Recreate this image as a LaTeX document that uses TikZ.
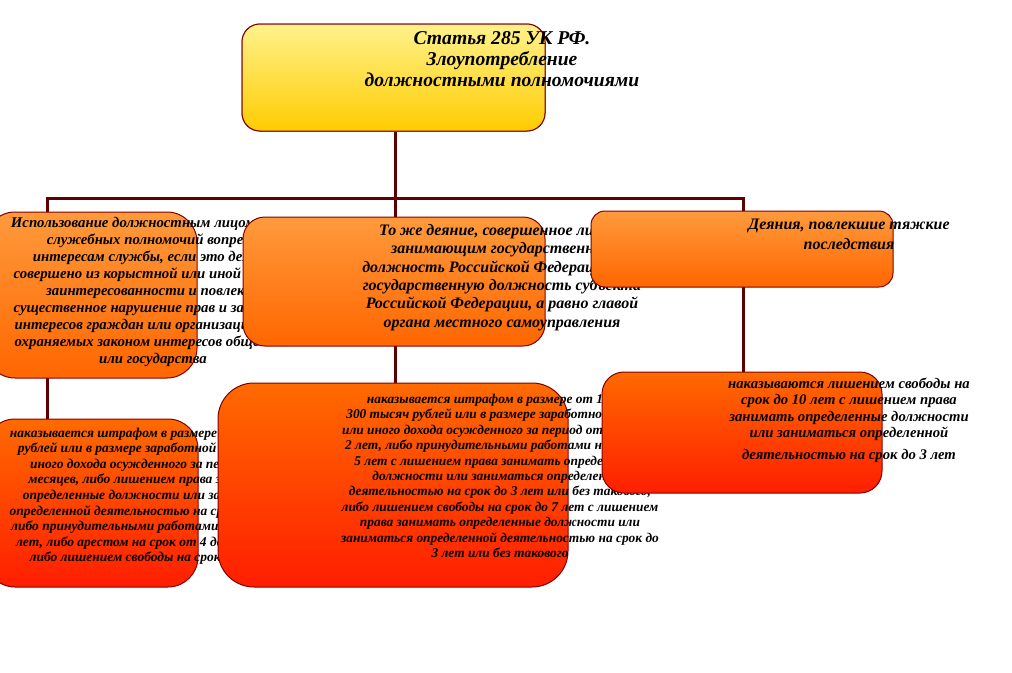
\documentclass[tikz,border=0pt]{standalone}
\usepackage{fontspec}
\setmainfont{Liberation Serif}
\definecolor{edge}{HTML}{800000}
\definecolor{wire}{HTML}{5E0000}
\definecolor{ytop}{HTML}{FFF28C}
\definecolor{ybot}{HTML}{FFCC00}
\definecolor{otop}{HTML}{FF9A3C}
\definecolor{obot}{HTML}{FF6600}
\definecolor{rtop}{HTML}{FF6A00}
\definecolor{rbot}{HTML}{FF1E00}
\tikzset{
  panel/.style={draw=edge, line width=1pt, rectangle, inner sep=0pt},
  yellowpanel/.style={panel, top color=ytop, bottom color=ybot},
  orangepanel/.style={panel, top color=otop, bottom color=obot},
  redpanel/.style={panel, top color=rtop, bottom color=rbot},
  wireline/.style={draw=wire, line width=3pt},
  titletext/.style={align=center, inner sep=0pt, anchor=north, font=\fontsize{19.6}{21}\selectfont\bfseries\itshape},
  bigtext/.style={align=center, inner sep=0pt, anchor=north, font=\fontsize{16}{17}\selectfont\bfseries\itshape},
  midtext/.style={align=center, inner sep=0pt, anchor=north, font=\fontsize{16}{18.4}\selectfont\bfseries\itshape},
  smalltext/.style={align=center, inner sep=0pt, anchor=north, font=\fontsize{13.5}{15.6}\selectfont\bfseries\itshape},
}
\begin{document}
\begin{tikzpicture}[x=1pt,y=-1pt]
\useasboundingbox (0,0) rectangle (1012,672);
\clip (0,0) rectangle (1012,672);
\coordinate (jl) at (47,198);
\coordinate (jm) at (395,198);
\coordinate (jr) at (743,198);
% title
\node[yellowpanel, rounded corners=18pt, minimum width=303pt, minimum height=107pt] (title) at (393.5,77.5) {};
\path (title.south -| jm) coordinate (ts);
\draw[wireline] (ts) -- (jm);
\draw[wireline, line cap=rect] (jl) -- (jr);
\draw[wireline] (jl) -- (jl |- 0,212);
\draw[wireline] (jm) -- (jm |- 0,217);
\draw[wireline] (jr) -- (jr |- 0,211);
\draw[wireline] (47,378) coordinate (l1s) -- (47,419) coordinate (l2n);
\draw[wireline] (395,346) coordinate (m1s) -- (395,383) coordinate (m2n);
\draw[wireline] (743,287) coordinate (r1s) -- (743,372) coordinate (r2n);
\node[yellowpanel, rounded corners=18pt, minimum width=303pt, minimum height=107pt] at (title) {};
\node[titletext] (ttl) at (502,31.5) {Статья 285 УК РФ.\\Злоупотребление\\должностными полномочиями};
% first row
\node[orangepanel, rounded corners=30pt, minimum width=212pt, minimum height=166pt] (l1) at (91,295) {};
\node[bigtext, font=\fontsize{14.8}{17}\selectfont\bfseries\itshape] (l1t) at (153,217.5) {Использование должностным лицом своих\\служебных полномочий вопреки\\интересам службы, если это деяние\\совершено из корыстной или иной личной\\заинтересованности и повлекло\\существенное нарушение прав и законных\\интересов граждан или организаций либо\\охраняемых законом интересов общества\\или государства};
\node[orangepanel, rounded corners=22pt, minimum width=302pt, minimum height=129pt] (m1) at (394,281.5) {};
\node[midtext] (m1t) at (502,224) {То же деяние, совершенное лицом,\\занимающим государственную\\должность Российской Федерации или\\государственную должность субъекта\\Российской Федерации, а равно главой\\органа местного самоуправления};
\node[orangepanel, rounded corners=14pt, minimum width=302pt, minimum height=76pt] (r1) at (742,249) {};
\node[bigtext, font=\fontsize{16}{20}\selectfont\bfseries\itshape] (r1t) at (849,219) {Деяния, повлекшие тяжкие\\последствия};
% second row
\node[redpanel, rounded corners=30pt, minimum width=213pt, minimum height=168pt] (l2) at (91.5,503) {};
\node[smalltext] (l2t) at (152,427.5) {наказывается штрафом в размере до 80 тысяч\\рублей или в размере заработной платы или\\иного дохода осужденного за период до 6\\месяцев, либо лишением права занимать\\определенные должности или заниматься\\определенной деятельностью на срок до 5 лет,\\либо принудительными работами на срок до 4\\лет, либо арестом на срок от 4 до 6 месяцев,\\либо лишением свободы на срок до 4 лет};
\node[redpanel, rounded corners=36pt, minimum width=350pt, minimum height=204pt] (m2) at (393,485) {};
\node[smalltext, font=\fontsize{13.4}{15.4}\selectfont\bfseries\itshape] (m2t) at (500,394) {наказывается штрафом в размере от 100 до\\300 тысяч рублей или в размере заработной платы\\или иного дохода осужденного за период от 1 года до\\2 лет,  либо принудительными работами на срок до\\5 лет с лишением права занимать определенные\\должности или заниматься определенной\\деятельностью на срок до 3 лет или без такового,\\либо лишением свободы на срок до 7 лет с лишением\\права занимать определенные должности или\\заниматься определенной деятельностью на срок до\\3 лет или без такового};
\node[redpanel, rounded corners=22pt, minimum width=280pt, minimum height=121pt] (r2) at (742,432.5) {};
\node[bigtext, font=\fontsize{14.7}{16.5}\selectfont\bfseries\itshape] (r2t) at (849,377.5) {наказываются лишением свободы на\\срок до 10 лет с лишением права\\занимать определенные должности\\или заниматься определенной\\[5pt]деятельностью на срок до 3 лет};
\end{tikzpicture}
\end{document}
